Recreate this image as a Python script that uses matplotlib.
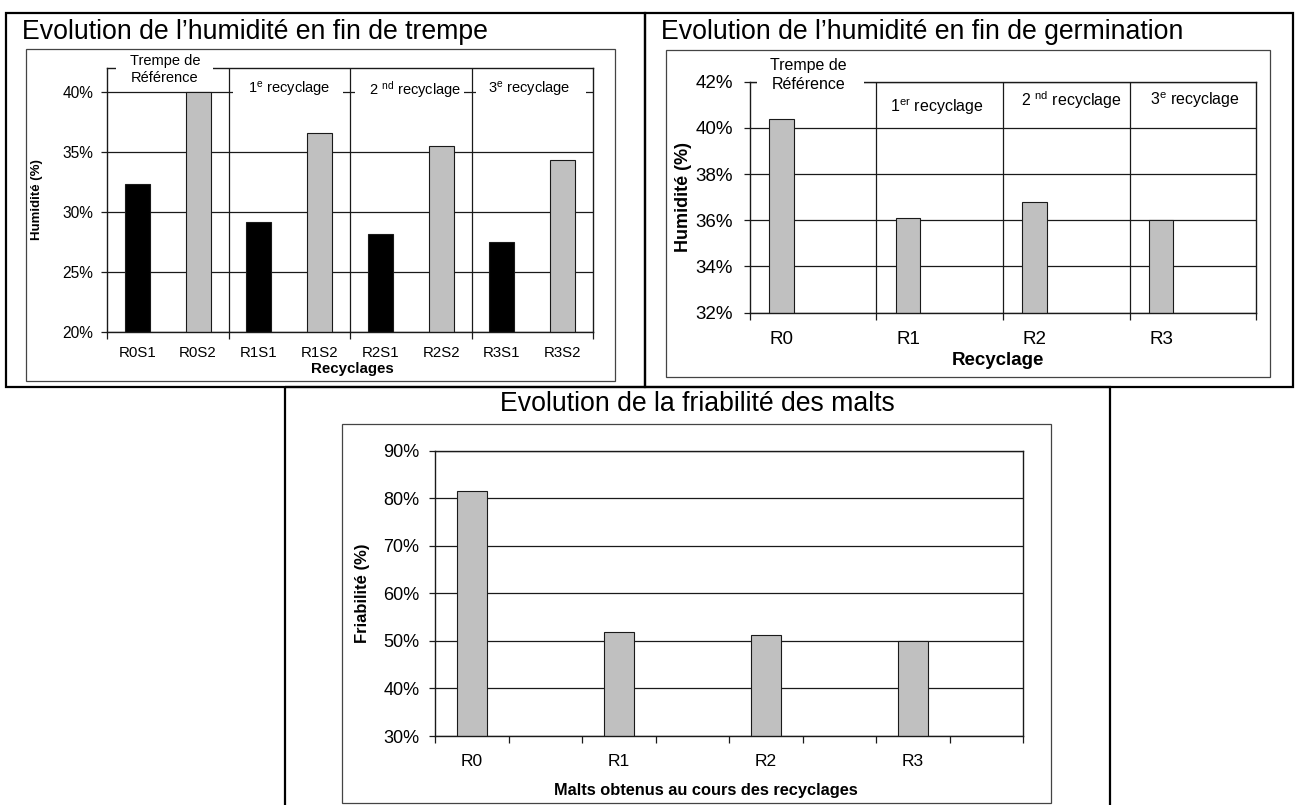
import numpy as np
import matplotlib
matplotlib.use("Agg")
import matplotlib.pyplot as plt
from matplotlib.patches import Rectangle
from matplotlib.ticker import FixedLocator, FuncFormatter, NullFormatter

plt.rcParams['font.family'] = ['Liberation Sans', 'DejaVu Sans']
plt.rcParams['mathtext.fontset'] = 'custom'
plt.rcParams['mathtext.rm'] = 'Liberation Sans'
plt.rcParams['mathtext.it'] = 'Liberation Sans:italic'
plt.rcParams['mathtext.bf'] = 'Liberation Sans:bold'

# --- data -------------------------------------------------------------
trempe_labels = ["R0S1", "R0S2", "R1S1", "R1S2", "R2S1", "R2S2", "R3S1", "R3S2"]
trempe_values = [32.3, 40.0, 29.2, 36.6, 28.2, 35.5, 27.5, 34.3]
trempe_headers = ["Trempe de\nRéférence", r"1$^{\mathrm{e}}$ recyclage",
                  r"2 $^{\mathrm{nd}}$ recyclage", r"3$^{\mathrm{e}}$ recyclage"]

germ_labels = ["R0", "R1", "R2", "R3"]
germ_values = [40.4, 36.1, 36.8, 36.0]
germ_headers = ["Trempe de\nRéférence", r"1$^{\mathrm{er}}$ recyclage",
                r"2 $^{\mathrm{nd}}$ recyclage", r"3$^{\mathrm{e}}$ recyclage"]

friab_labels = ["R0", "R1", "R2", "R3"]
friab_values = [81.5, 51.9, 51.2, 50.0]

W, H = 1295, 805
GRAY = '#c0c0c0'
LINE = '#1a1a1a'


def px_axes(fig, x0, y0, x1, y1):
    """Axes placed by pixel box (top-left origin)."""
    return fig.add_axes([x0 / W, 1 - y1 / H, (x1 - x0) / W, (y1 - y0) / H])


def pct(v, pos):
    return f"{v:.0f}%"


def base_style(ax, yticks, ylim, ysize, ypad):
    ax.set_ylim(*ylim)
    ax.set_yticks(yticks)
    ax.yaxis.set_major_formatter(FuncFormatter(pct))
    ax.grid(axis='y', color=LINE, lw=0.9)
    ax.set_axisbelow(True)
    for s in ax.spines.values():
        s.set_color(LINE)
        s.set_linewidth(1.0)
    ax.tick_params(axis='y', direction='out', length=4, width=0.9,
                   colors=LINE, labelsize=ysize, pad=ypad, labelcolor='black')


def cover(ax, x0, x1, y0, y1):
    ax.add_patch(Rectangle((x0, y0), x1 - x0, y1 - y0, facecolor='white',
                           edgecolor='none', zorder=2.7, clip_on=False))


fig = plt.figure(figsize=(W / 100, H / 100), dpi=100)

# frames
frame = fig.add_axes([0, 0, 1, 1])
frame.set_xlim(0, W)
frame.set_ylim(H, 0)
frame.axis('off')
for (x0, y0, x1, y1) in [(5.5, 13.3, 644.5, 386.7), (644.5, 13.3, 1292.5, 386.7),
                         (285, 386.7, 1110, 806)]:
    frame.add_patch(Rectangle((x0, y0), x1 - x0, y1 - y0, fill=False,
                              edgecolor='black', lw=1.6))
for (x0, y0, x1, y1) in [(25.7, 49, 615, 381), (665.7, 50, 1270, 377),
                         (341.7, 424, 1050.7, 803)]:
    frame.add_patch(Rectangle((x0, y0), x1 - x0, y1 - y0, fill=False,
                              edgecolor='#444444', lw=0.9))

fig.text(22 / W, 1 - 39 / H, "Evolution de l’humidité en fin de trempe",
         fontsize=19.2, va='baseline', ha='left')
fig.text(661 / W, 1 - 39 / H, "Evolution de l’humidité en fin de germination",
         fontsize=19.2, va='baseline', ha='left')
fig.text(697 / W, 1 - 411 / H, "Evolution de la friabilité des malts",
         fontsize=19.2, va='baseline', ha='center')

# --- chart 1 : humidité fin de trempe ----------------------------------
ax1 = px_axes(fig, 107, 68, 593, 332)
x1 = np.arange(len(trempe_labels))
colors1 = ['black' if lab.endswith('S1') else GRAY for lab in trempe_labels]
ax1.bar(x1, trempe_values, width=0.41, color=colors1, edgecolor=LINE,
        linewidth=0.8, zorder=2)
ax1.set_xlim(-0.5, len(trempe_labels) - 0.5)
base_style(ax1, [20, 25, 30, 35, 40], (20, 42), 11.2, 6)
ax1.xaxis.set_major_locator(FixedLocator(np.arange(-0.5, len(trempe_labels), 2)))
ax1.xaxis.set_major_formatter(NullFormatter())
ax1.xaxis.set_minor_locator(FixedLocator(x1))
ax1.set_xticklabels(trempe_labels, minor=True)
ax1.tick_params(axis='x', which='major', direction='out', length=5, width=0.9,
                colors=LINE)
ax1.tick_params(axis='x', which='minor', length=0, labelsize=10.8, pad=10)
for b in np.arange(1.5, len(trempe_labels) - 1, 2):
    ax1.axvline(b, color=LINE, lw=0.9, zorder=1.5)
ax1.set_ylabel("Humidité (%)", fontsize=9.5, fontweight='bold')
ax1.yaxis.set_label_coords(-0.132, 0.5)
ax1.set_xlabel("Recyclages", fontsize=10.8, fontweight='bold')
ax1.xaxis.set_label_coords(0.505, -0.112)

cover(ax1, -0.35, 1.25, 40.67, 43.4)
ax1.text(0.455, 41.85, trempe_headers[0], ha='center', va='center',
         fontsize=10.5, zorder=3, linespacing=1.3)
head_x1 = [2.5, 4.57, 6.45]
for g, (hx, txt) in enumerate(zip(head_x1, trempe_headers[1:]), start=1):
    cover(ax1, 2 * g - 0.5 + 0.08, 2 * g + 1.5 - 0.12, 39.4, 41.0)
    ax1.text(hx, 40.2, txt, ha='center', va='center', fontsize=10.5, zorder=3)

# --- chart 2 : humidité fin de germination -----------------------------
ax2 = px_axes(fig, 750, 81.7, 1256, 312.7)
x2 = np.arange(len(germ_labels)) + 0.25
ax2.bar(x2, germ_values, width=0.195, color=GRAY, edgecolor=LINE,
        linewidth=0.8, zorder=2)
ax2.set_xlim(0, len(germ_labels))
base_style(ax2, [32, 34, 36, 38, 40, 42], (32, 42), 13.5, 8.5)
ax2.xaxis.set_major_locator(FixedLocator(np.arange(0, len(germ_labels) + 1)))
ax2.xaxis.set_major_formatter(NullFormatter())
ax2.xaxis.set_minor_locator(FixedLocator(x2))
ax2.set_xticklabels(germ_labels, minor=True)
ax2.tick_params(axis='x', which='major', direction='out', length=5, width=0.9,
                colors=LINE)
ax2.tick_params(axis='x', which='minor', length=0, labelsize=13.5, pad=13)
for b in range(1, len(germ_labels)):
    ax2.axvline(b, color=LINE, lw=0.9, zorder=1.5)
ax2.set_ylabel("Humidité (%)", fontsize=13, fontweight='bold')
ax2.yaxis.set_label_coords(-0.115, 0.5)
ax2.set_xlabel("Recyclage", fontsize=13.5, fontweight='bold')
ax2.xaxis.set_label_coords(0.49, -0.17)

cover(ax2, 0.055, 0.9, 41.4, 43.2)
ax2.text(0.46, 42.29, germ_headers[0], ha='center', va='center',
         fontsize=11.5, zorder=3, linespacing=1.3)
head_pos2 = [(1.48, 40.9), (2.54, 41.2), (3.52, 41.2)]
for (hx, hy), txt in zip(head_pos2, germ_headers[1:]):
    ax2.text(hx, hy, txt, ha='center', va='center', fontsize=11.5, zorder=3)

# --- chart 3 : friabilité -----------------------------------------------
ax3 = px_axes(fig, 435, 450.7, 1023.3, 736)
x3 = np.arange(len(friab_labels)) * 2
ax3.bar(x3, friab_values, width=0.41, color=GRAY, edgecolor=LINE,
        linewidth=0.8, zorder=2)
ax3.set_xlim(-0.5, 2 * len(friab_labels) - 0.5)
base_style(ax3, [30, 40, 50, 60, 70, 80, 90], (30, 90), 13, 7.2)
ax3.xaxis.set_major_locator(FixedLocator(np.arange(-0.5, 2 * len(friab_labels), 1)))
ax3.xaxis.set_major_formatter(NullFormatter())
ax3.xaxis.set_minor_locator(FixedLocator(x3))
ax3.set_xticklabels(friab_labels, minor=True)
ax3.tick_params(axis='x', which='major', direction='out', length=5, width=0.9,
                colors=LINE)
ax3.tick_params(axis='x', which='minor', length=0, labelsize=12.5, pad=13)
ax3.set_ylabel("Friabilité (%)", fontsize=12, fontweight='bold')
ax3.yaxis.set_label_coords(-0.11, 0.5)
ax3.set_xlabel("Malts obtenus au cours des recyclages", fontsize=11.8,
               fontweight='bold')
ax3.xaxis.set_label_coords(0.46, -0.163)

fig.savefig("out.png", dpi=100)
